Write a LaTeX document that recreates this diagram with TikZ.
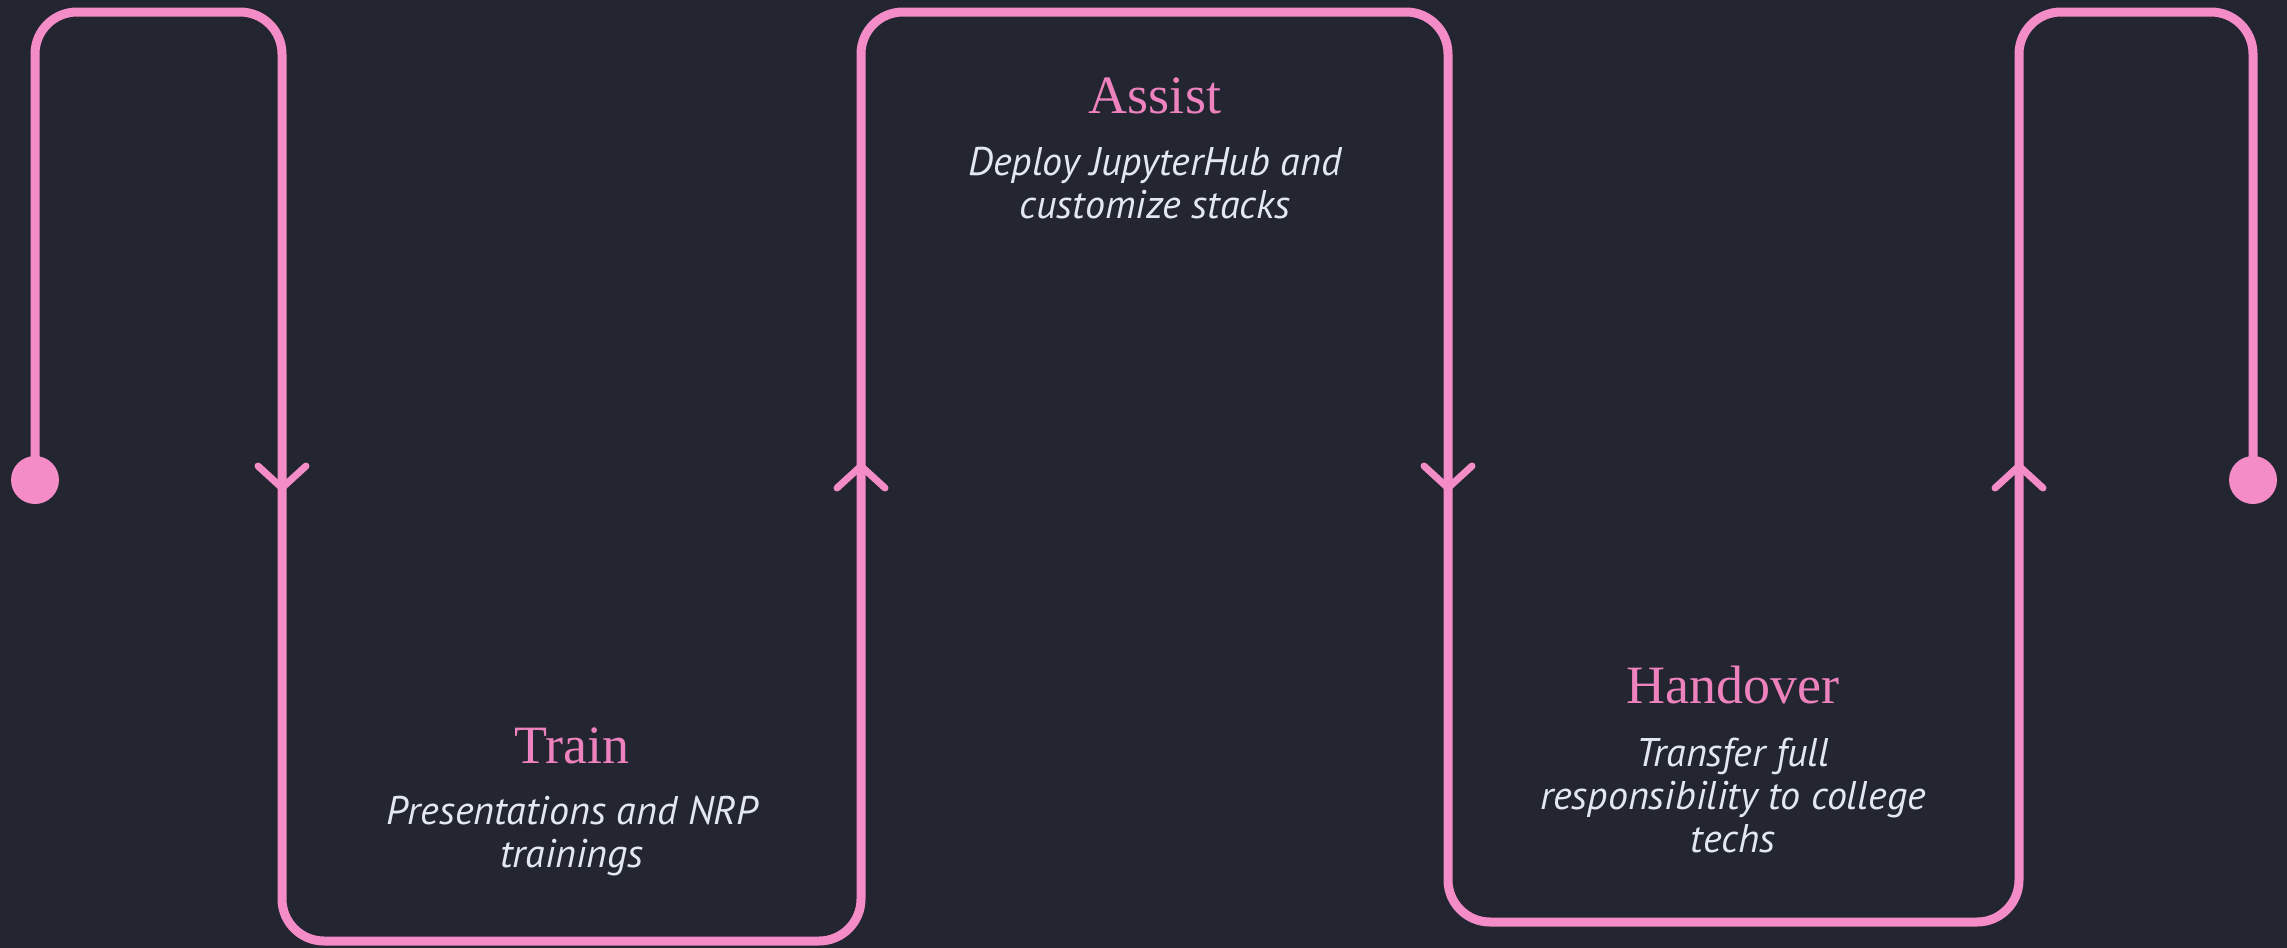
\documentclass[tikz,border=0pt]{standalone}
\usepackage{fontspec}
\setmainfont{Liberation Serif}
\setsansfont{PT Sans}
\usepackage{xcolor}
\usetikzlibrary{arrows.meta}
\definecolor{bgdark}{RGB}{35,37,48}
\definecolor{flowpink}{RGB}{244,140,200}
\definecolor{headpink}{RGB}{238,130,190}
\definecolor{desctext}{RGB}{226,232,242}

\begin{document}
\begin{tikzpicture}[x=1pt,y=-1pt,
      flow/.style={draw=flowpink,line width=9pt,rounded corners=42pt},
      chev/.style={draw=flowpink,line width=7pt,line cap=round,line join=round},
      dot/.style={circle,fill=flowpink,minimum size=48pt,inner sep=0pt},
      phase/.style={font=\fontsize{54}{60}\selectfont,text=headpink,anchor=base,inner sep=0pt},
      desc/.style={font=\sffamily\itshape\fontsize{40}{43}\selectfont,text=desctext,align=center,anchor=base,inner sep=0pt}]
      \fill[bgdark] (0,0) rectangle (2287,948);
      \node[dot] (start) at (35,480) {};
      \node[dot] (finish) at (2253,480) {};
      \coordinate (c1) at (282,12);
      \coordinate (c2) at (861,941);
      \coordinate (c3) at (1448,12);
      \coordinate (c4) at (2019,922);
      \coordinate (c5) at (2253,12);
      \draw[flow] (start.center) |- (c1) |- (c2) |- (c3) |- (c4) |- (c5) -- (finish.center);
      \foreach \x/\d in {282/1,861/-1,1448/1,2019/-1}
        \draw[chev] ({\x-24},{477-11*\d}) -- (\x,{477+11*\d}) -- ({\x+24},{477-11*\d});
      % descriptions: base sits on their last line
      \node[phase] (train) at (572,763) {Train};
      \node[desc] (traindesc) at (572,867) {Presentations and NRP\\trainings};
      \node[phase] (assist) at (1155,113) {Assist};
      \node[desc] (assistdesc) at (1155,218) {Deploy JupyterHub and\\customize stacks};
      \node[phase] (handover) at (1733,703) {Handover};
      \node[desc] (handoverdesc) at (1733,852) {Transfer full\\responsibility to college\\techs};
    \end{tikzpicture}
\end{document}
